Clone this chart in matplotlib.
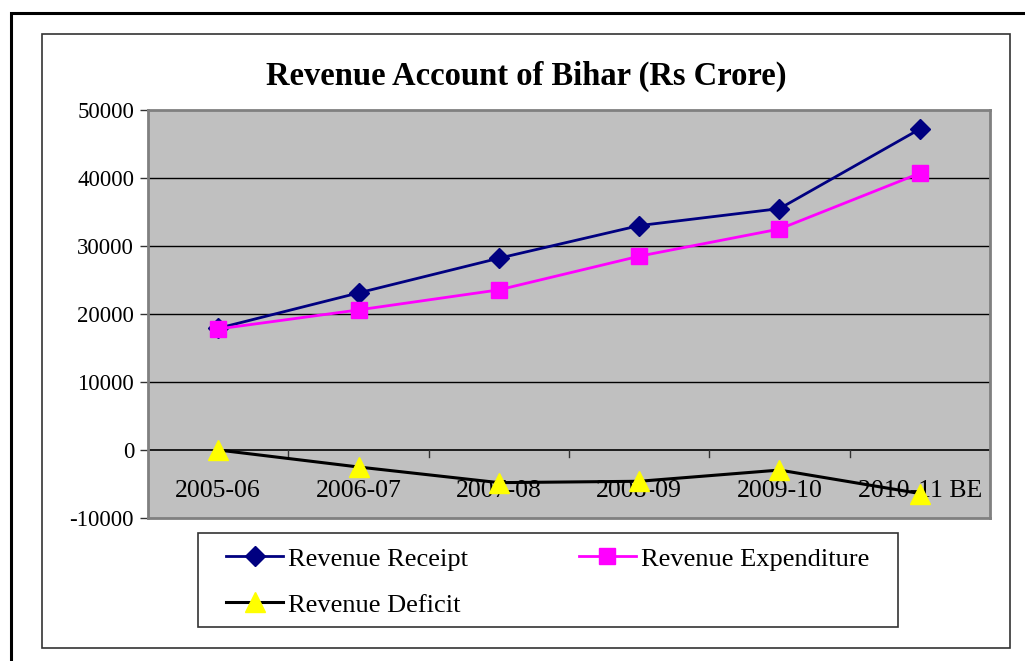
import matplotlib.pyplot as plt
from matplotlib.patches import Rectangle

years = ["2005-06", "2006-07", "2007-08", "2008-09", "2009-10", "2010-11 BE"]
receipt = [17900, 23100, 28200, 33000, 35500, 47200]
expenditure = [17800, 20600, 23550, 28500, 32500, 40700]
deficit = [0, -2500, -4800, -4600, -2950, -6400]

W, H = 1025, 661
plt.rcParams['font.family'] = ['Liberation Serif', 'DejaVu Serif']
plt.rcParams['axes.unicode_minus'] = False

fig = plt.figure(figsize=(W / 100, H / 100), dpi=100)

def box(x0, y0, x1, y1):
    # pixel box (top-left origin) -> figure fraction rect
    return [x0 / W, 1 - y1 / H, (x1 - x0) / W, (y1 - y0) / H]

# outer frame and chart frame
fig.patches.append(Rectangle((11 / W, -0.01), 1.1, 1 - 13 / H + 0.01, transform=fig.transFigure,
                             fill=False, edgecolor='black', linewidth=2.2))
fig.patches.append(Rectangle((42 / W, 1 - 648 / H), (1010 - 42) / W, (648 - 34) / H,
                             transform=fig.transFigure, fill=False, edgecolor='#333333', linewidth=1.2))

ax = fig.add_axes(box(148, 110, 990, 518))
ax.set_facecolor('#C0C0C0')
for s in ax.spines.values():
    s.set_color('#808080')
    s.set_linewidth(2)

x = list(range(len(years)))
ax.plot(x, receipt, color='#000080', linewidth=2, marker='D', markersize=10,
        markerfacecolor='#000080', markeredgecolor='#000080', label='Revenue Receipt', zorder=3)
ax.plot(x, expenditure, color='#FF00FF', linewidth=2, marker='s', markersize=12,
        markerfacecolor='#FF00FF', markeredgecolor='#FF00FF', label='Revenue Expenditure', zorder=3)
ax.plot(x, deficit, color='black', linewidth=2.2, marker='^', markersize=14,
        markerfacecolor='#FFFF00', markeredgecolor='#FFFF00', label='Revenue Deficit', zorder=3)

ax.set_xlim(-0.5, len(years) - 0.5)
ax.set_ylim(-10000, 50000)
ax.set_yticks(range(-10000, 50001, 10000))
ax.tick_params(axis='y', labelsize=16.5, length=6, width=1, color='#333333', pad=4)
ax.set_xticks([])
for v in range(10000, 50000, 10000):
    ax.axhline(v, color='black', linewidth=1, zorder=1)

# category axis drawn at zero with ticks between categories
ax.axhline(0, color='black', linewidth=1.2, zorder=2)
for i in range(1, len(years) + 1):
    ax.plot([i - 0.5, i - 0.5], [0, -1100], color='#333333', linewidth=1, zorder=2)
for i, lab in enumerate(years):
    ax.text(i, -6000, lab, ha='center', va='center', fontsize=18.5, zorder=2)

fig.text(526 / W, 1 - 76 / H, "Revenue Account of Bihar (Rs Crore)", ha='center', va='center',
         fontsize=23.5, fontweight='bold')

# legend box
fig.patches.append(Rectangle((198 / W, 1 - 627 / H), (898 - 198) / W, (627 - 533) / H,
                             transform=fig.transFigure, facecolor='white', edgecolor='#333333',
                             linewidth=1.2))
h = ax.get_lines()[:3]
leg = fig.legend([h[0], h[2], h[1]], ['Revenue Receipt', 'Revenue Deficit', 'Revenue Expenditure'],
                 ncol=2, loc='upper left', bbox_to_anchor=(213 / W, 1 - 534 / H), frameon=False,
                 fontsize=19, handlelength=2.15, handletextpad=0.2, columnspacing=4.2,
                 labelspacing=0.85, borderpad=0)

fig.savefig("out.png", dpi=100)
